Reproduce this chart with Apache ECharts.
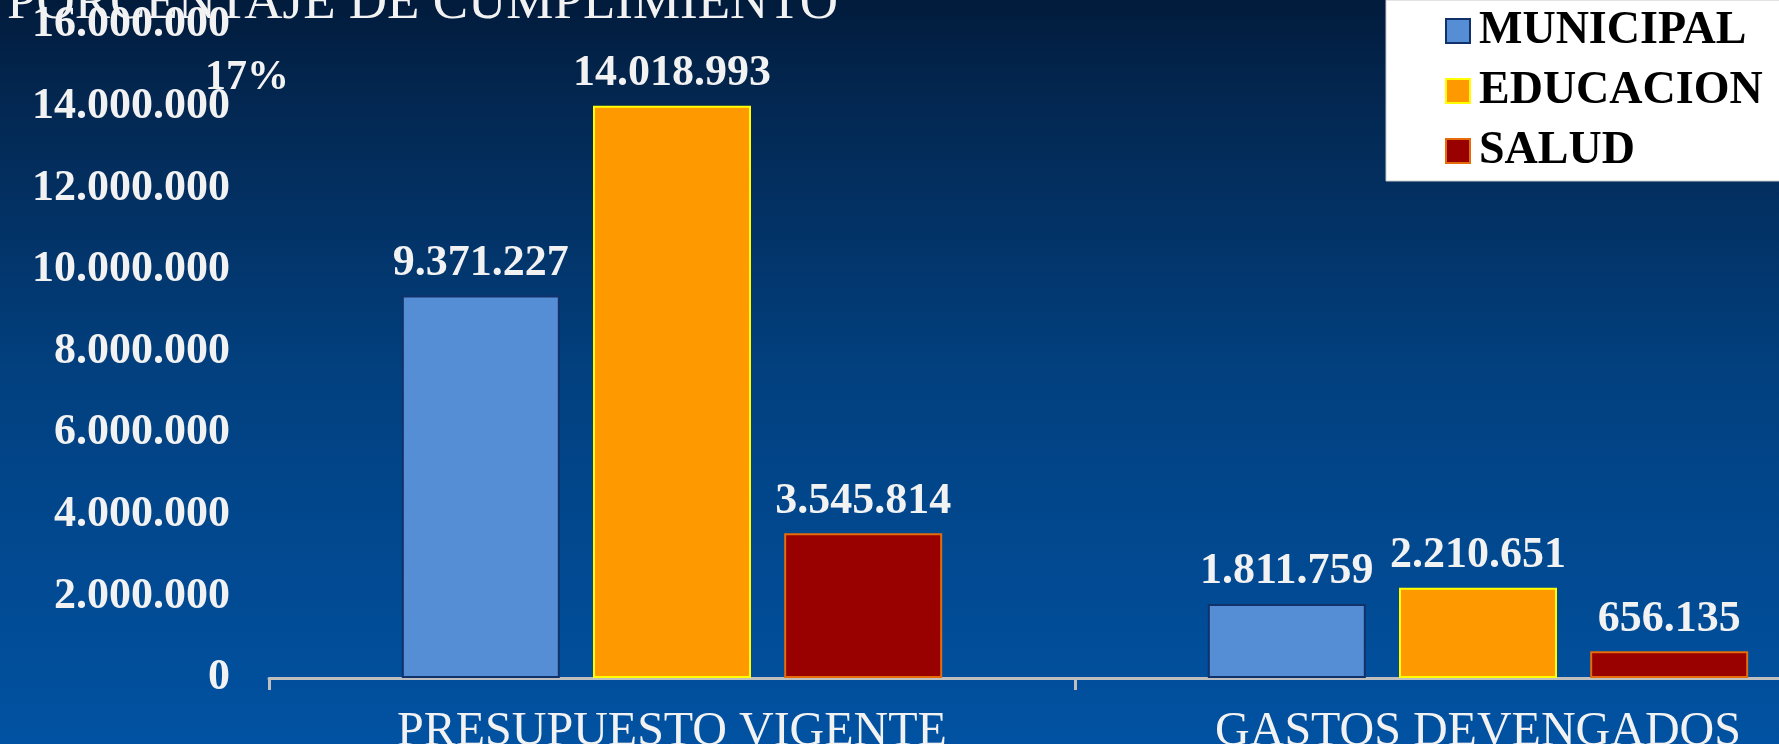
<!DOCTYPE html>
<html>
<head>
<meta charset="utf-8">
<script src="https://cdn.jsdelivr.net/npm/echarts@6/dist/echarts.min.js"></script>
<style>
  html, body { margin: 0; padding: 0; }
  #chart { width: 1779px; height: 744px; }
</style>
</head>
<body>
<div id="chart"></div>
<script>
var categories = ['PRESUPUESTO VIGENTE', 'GASTOS DEVENGADOS'];
var municipal = [9371227, 1811759];
var educacion = [14018993, 2210651];
var salud = [3545814, 656135];
var titleText = 'PORCENTAJE DE CUMPLIMIENTO';
var pctText = '17%';

var serif = '"Liberation Serif", "Times New Roman", serif';
var white = '#f2f2f2';

function dots(v) {
  return String(v).replace(/\B(?=(\d{3})+(?!\d))/g, '.');
}

var valueLabel = {
  show: true,
  position: 'top',
  distance: 10,
  color: white,
  fontFamily: serif,
  fontWeight: 'bold',
  fontSize: 44,
  formatter: function (p) { return dots(p.value); }
};

var option = {
  backgroundColor: {
    type: 'linear', x: 0, y: 0, x2: 0, y2: 1,
    colorStops: [
      { offset: 0, color: '#011b3b' },
      { offset: 0.12, color: '#03264f' },
      { offset: 0.5, color: '#02407f' },
      { offset: 1, color: '#0152a2' }
    ]
  },
  animation: false,
  title: {
    text: titleText,
    left: 7,
    top: -22,
    padding: 0,
    textStyle: { color: white, fontFamily: serif, fontWeight: 'normal', fontSize: 53 }
  },
  graphic: [{
    type: 'text',
    left: 205,
    top: 57,
    style: { text: pctText, fill: white, font: 'bold 42px ' + serif }
  }],
  legend: {
    orient: 'vertical',
    left: 1386,
    top: 0,
    padding: [8, 80, 7, 59],
    backgroundColor: '#ffffff',
    borderColor: '#c8c8c8',
    borderWidth: 1,
    itemWidth: 24,
    itemHeight: 24,
    itemGap: 14,
    icon: 'rect',
    textStyle: { color: '#000', fontFamily: serif, fontWeight: 'bold', fontSize: 46, lineHeight: 46, padding: [0, 0, 0, 4] },
    data: ['MUNICIPAL', 'EDUCACION', 'SALUD']
  },
  grid: {
    left: 269,
    top: 25,
    width: 1612,
    height: 653,
    containLabel: false,
    outerBoundsMode: 'none'
  },
  xAxis: {
    type: 'category',
    data: categories,
    axisLine: { lineStyle: { color: '#bfbfbf', width: 3 } },
    axisTick: { show: true, length: 12, lineStyle: { color: '#bfbfbf', width: 3 } },
    axisLabel: { color: white, fontFamily: serif, fontSize: 48, margin: 30 }
  },
  yAxis: {
    type: 'value',
    min: 0,
    max: 16000000,
    interval: 2000000,
    axisLine: { show: false },
    axisTick: { show: false },
    splitLine: { show: false },
    axisLabel: {
      color: white,
      fontFamily: serif,
      fontWeight: 'bold',
      fontSize: 44,
      margin: 39,
      formatter: function (v) { return dots(v); }
    }
  },
  series: [{
    name: 'MUNICIPAL',
    type: 'bar',
    barWidth: 158,
    barGap: '21%',
    itemStyle: { color: '#558ed5', borderColor: '#10316a', borderWidth: 2 },
    label: valueLabel,
    data: municipal
  }, {
    name: 'EDUCACION',
    type: 'bar',
    barWidth: 158,
    itemStyle: { color: '#ff9900', borderColor: '#ffff00', borderWidth: 2 },
    label: valueLabel,
    data: educacion
  }, {
    name: 'SALUD',
    type: 'bar',
    barWidth: 158,
    itemStyle: { color: '#990000', borderColor: '#e46c0a', borderWidth: 2 },
    label: valueLabel,
    data: salud
  }]
};

var myChart = echarts.init(document.getElementById('chart'));
myChart.setOption(option);
</script>
</body>
</html>
